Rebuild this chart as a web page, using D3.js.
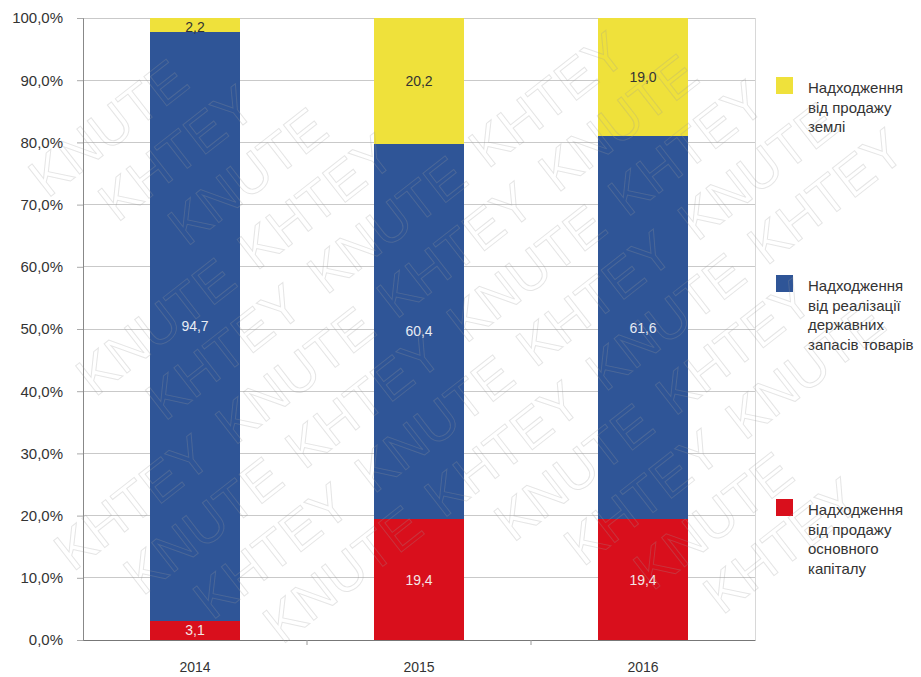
<!DOCTYPE html>
<html><head><meta charset="utf-8">
<script src="https://cdn.jsdelivr.net/npm/d3@7"></script>
<style>body{margin:0;background:#fff}svg{display:block}text{font-family:"Liberation Sans",Arial,sans-serif}</style>
</head><body>
<svg id="c" width="921" height="677"></svg>
<script>
const years = ["2014", "2015", "2016"];
const seriesNames = [
  ["Надходження", "від продажу", "основного", "капіталу"],
  ["Надходження", "від реалізації", "державних", "запасів товарів"],
  ["Надходження", "від продажу", "землі"]
];
const capital = [3.1, 19.4, 19.4];
const reserves = [94.7, 60.4, 61.6];
const land = [2.2, 20.2, 19.0];
const yTicks = [0, 10, 20, 30, 40, 50, 60, 70, 80, 90, 100];
const colors = ["#d90f1c", "#2f5597", "#efe13b"];
const labelColors = ["#f3e6e6", "#e8ecf4", "#333"];

const svg = d3.select("#c");
const pL = 83, pR = 755, pT = 18, pB = 640;
const x = d3.scaleBand().domain(years).range([pL, pR]).paddingInner(0.6).paddingOuter(0.3);
const y = d3.scaleLinear().domain([0, 100]).range([pB, pT]);
const FONT = "Liberation Sans, Arial, sans-serif";

// grid
svg.append("g").selectAll("line").data(yTicks).join("line")
  .attr("x1", pL).attr("x2", pR).attr("y1", d => y(d)).attr("y2", d => y(d))
  .attr("stroke", "#c9c9c9").attr("stroke-width", 1).attr("shape-rendering", "crispEdges");
svg.append("line").attr("x1", pR).attr("x2", pR).attr("y1", pT).attr("y2", pB)
  .attr("stroke", "#d8d8d8").attr("shape-rendering", "crispEdges");

// stacked bars
const rows = years.map((yr, i) => ({year: yr, capital: capital[i], reserves: reserves[i], land: land[i]}));
const keys = ["capital", "reserves", "land"];
const stack = d3.stack().keys(keys)(rows);
const g = svg.append("g");
stack.forEach((layer, k) => {
  g.selectAll(null).data(layer).join("rect")
    .attr("x", d => x(d.data.year)).attr("width", x.bandwidth())
    .attr("y", d => y(d[1])).attr("height", d => y(d[0]) - y(d[1]))
    .attr("fill", colors[k]).attr("shape-rendering", "crispEdges");
  g.selectAll(null).data(layer).join("text")
    .attr("x", d => x(d.data.year) + x.bandwidth() / 2)
    .attr("y", d => (d[1] - d[0]) < 4 ? y(d[1]) + 9 : (y(d[0]) + y(d[1])) / 2)
    .attr("dy", "0.35em").attr("text-anchor", "middle")
    .attr("font-size", 14).attr("fill", labelColors[k])
    .text(d => (d[1] - d[0]).toFixed(1).replace(".", ","));
});

// axes
const yAxis = d3.axisLeft(y).tickValues(yTicks).tickSize(6).tickPadding(14)
  .tickFormat(d => d.toFixed(1).replace(".", ",") + "%");
const ya = svg.append("g").attr("transform", `translate(${pL},0)`).call(yAxis);
ya.select(".domain").attr("stroke", "#888");
ya.selectAll(".tick line").attr("stroke", "#aaa");
ya.selectAll("text").attr("font-size", 15).attr("fill", "#333").attr("font-family", FONT);

const xa = svg.append("g").attr("transform", `translate(0,${pB})`)
  .call(d3.axisBottom(x).tickSize(0).tickPadding(22));
xa.select(".domain").attr("stroke", "#777");
xa.selectAll("text").attr("font-size", 14).attr("fill", "#333").attr("font-family", FONT);
const step = x.step();
const bounds = [1, 2].map(i => pL + x.paddingOuter() * step - x.paddingInner() * step / 2 + i * step);
svg.append("g").selectAll("line").data(bounds).join("line")
  .attr("x1", d => d).attr("x2", d => d).attr("y1", pB).attr("y2", pB + 5)
  .attr("stroke", "#999");

// legend
const legendTops = [77, 275, 499];
const legendIdx = [2, 1, 0];
legendIdx.forEach((k, j) => {
  const lg = svg.append("g").attr("transform", `translate(776,${legendTops[j]})`);
  lg.append("rect").attr("width", 17).attr("height", 17).attr("fill", colors[k]);
  const t = lg.append("text").attr("x", 32).attr("y", 16).attr("font-size", 15).attr("fill", "#333");
  seriesNames[k].forEach((s, i) => t.append("tspan").attr("x", 32).attr("dy", i === 0 ? 0 : 19.5).text(s));
});

// watermark (only whole words that fit inside the picture)
const wm = svg.append("g").attr("pointer-events", "none").attr("transform", "rotate(-38)");
const words = ["KNUTE", "KHTEY"];
for (let r = -4; r < 20; r++) {
  for (let c = -6; c < 8; c++) {
    const t = wm.append("text").attr("x", c * 205 + r * 40).attr("y", r * 62)
      .attr("font-size", 54).attr("fill", "none").attr("stroke", "#9a9a9a")
      .attr("stroke-opacity", 0.26).attr("stroke-width", 1)
      .attr("font-family", FONT).text(words[((c + r) % 2 + 2) % 2]);
    const b = t.node().getBoundingClientRect();
    if (b.left < 0 || b.top < 0 || b.right > 921 || b.bottom > 677) t.remove();
  }
}
</script>
</body></html>
